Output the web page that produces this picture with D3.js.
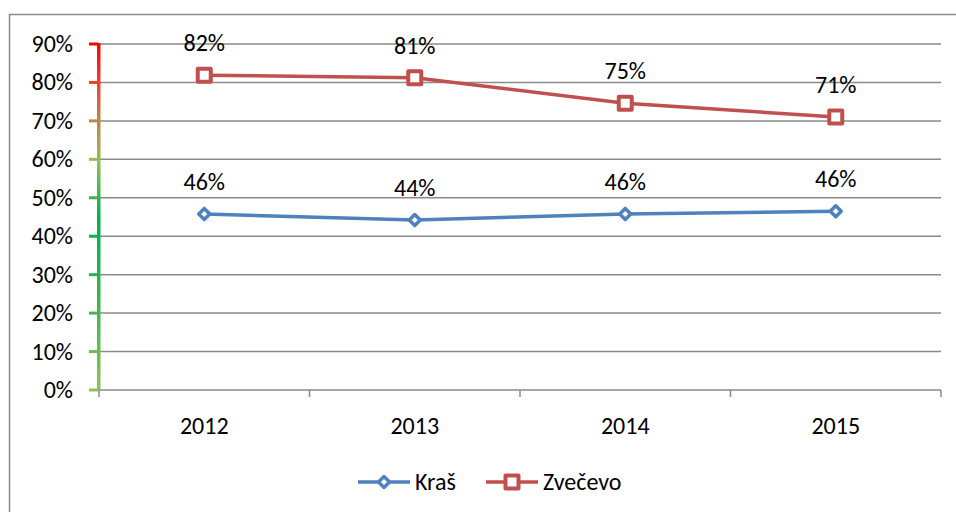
<html>
<head>
<meta charset="utf-8">
<script src="https://cdn.jsdelivr.net/npm/d3@7"></script>
<style>
  body { margin: 0; background: #fff; }
  text { font-family: Carlito, Lato, "Open Sans", sans-serif; fill: #000; }
</style>
</head>
<body>
<script>
// data
var years = ["2012", "2013", "2014", "2015"];
var kras = [0.458, 0.442, 0.458, 0.465];
var zvecevo = [0.819, 0.812, 0.746, 0.710];
var krasLabels = ["46%", "44%", "46%", "46%"];
var zvecevoLabels = ["82%", "81%", "75%", "71%"];
var yTicks = [0, 0.1, 0.2, 0.3, 0.4, 0.5, 0.6, 0.7, 0.8, 0.9];

var w = 956, h = 512;
var pLeft = 99, pRight = 941, pTop = 44, pBottom = 390;
var fs = 24;

var svg = d3.select("body").append("svg")
    .attr("width", w)
    .attr("height", h);

// outer frame
svg.append("rect")
    .attr("x", 9.5).attr("y", 14.5)
    .attr("width", 960).attr("height", 520)
    .attr("fill", "none")
    .attr("stroke", "#8c8c8c")
    .attr("stroke-width", 1.5);

var x = d3.scaleBand().domain(years).range([pLeft, pRight]);
var y = d3.scaleLinear().domain([0, 0.9]).range([pBottom, pTop]);

// gridlines
svg.append("g").selectAll("line")
    .data(yTicks.slice(1))
    .enter().append("line")
    .attr("x1", pLeft).attr("x2", pRight)
    .attr("y1", function(d) { return y(d); })
    .attr("y2", function(d) { return y(d); })
    .attr("stroke", "#8a8a8a")
    .attr("stroke-width", 1.5);

// x axis
var xAxis = svg.append("g")
    .attr("transform", "translate(0," + pBottom + ")");
xAxis.append("line")
    .attr("x1", pLeft).attr("x2", pRight)
    .attr("stroke", "#8a8a8a").attr("stroke-width", 1.5);
var xTickPos = years.map(function(d) { return x(d); }).concat([pRight]);
xAxis.selectAll(".xt")
    .data(xTickPos)
    .enter().append("line")
    .attr("x1", function(d) { return d; })
    .attr("x2", function(d) { return d; })
    .attr("y1", 0).attr("y2", 7)
    .attr("stroke", "#8a8a8a").attr("stroke-width", 1.5);
xAxis.selectAll("text")
    .data(years)
    .enter().append("text")
    .attr("x", function(d) { return x(d) + x.bandwidth() / 2; })
    .attr("y", 44)
    .attr("text-anchor", "middle")
    .attr("font-size", fs)
    .text(function(d) { return d; });

// gradient y axis
var grad = svg.append("defs").append("linearGradient")
    .attr("id", "axisGrad")
    .attr("gradientUnits", "userSpaceOnUse")
    .attr("x1", 0).attr("x2", 0)
    .attr("y1", pTop).attr("y2", pBottom);
[["0", "#ff0000"], ["0.1", "#e8402a"], ["0.22", "#c0844a"], ["0.34", "#92c050"],
 ["0.5", "#00b050"], ["0.75", "#3cb450"], ["1", "#92c050"]].forEach(function(s) {
  grad.append("stop").attr("offset", s[0]).attr("stop-color", s[1]);
});

var yAxis = svg.append("g");
yAxis.append("rect")
    .attr("x", pLeft - 2).attr("y", pTop - 1)
    .attr("width", 3.5).attr("height", pBottom - pTop + 1)
    .attr("fill", "url(#axisGrad)");
yAxis.selectAll(".yt")
    .data(yTicks)
    .enter().append("rect")
    .attr("x", pLeft - 10)
    .attr("y", function(d) { return y(d) - 1.5; })
    .attr("width", 9).attr("height", 3)
    .attr("fill", "url(#axisGrad)");
yAxis.selectAll("text")
    .data(yTicks)
    .enter().append("text")
    .attr("x", 73)
    .attr("y", function(d) { return y(d) + 8; })
    .attr("text-anchor", "end")
    .attr("font-size", fs)
    .text(function(d) { return d3.format(".0%")(d); });

// lines
var line = d3.line()
    .x(function(d, i) { return x(years[i]) + x.bandwidth() / 2; })
    .y(function(d) { return y(d); });

function drawSeries(vals, labels, color, shape, sw) {
  var g = svg.append("g");
  g.append("path")
      .datum(vals)
      .attr("d", line)
      .attr("fill", "none")
      .attr("stroke", color)
      .attr("stroke-width", 3.5);
  g.selectAll(".m")
      .data(vals)
      .enter().append("path")
      .attr("transform", function(d, i) {
        return "translate(" + (x(years[i]) + x.bandwidth() / 2) + "," + y(d) + ")";
      })
      .attr("d", shape)
      .attr("fill", "#fff")
      .attr("stroke", color)
      .attr("stroke-width", sw)
      .attr("stroke-linejoin", "round");
  g.selectAll("text")
      .data(vals)
      .enter().append("text")
      .attr("x", function(d, i) { return x(years[i]) + x.bandwidth() / 2; })
      .attr("y", function(d) { return y(d) - 24; })
      .attr("text-anchor", "middle")
      .attr("font-size", fs)
      .text(function(d, i) { return labels[i]; });
}

var diamond = "M0,-5.5L5.5,0L0,5.5L-5.5,0Z";
var square = "M-6.5,-6.5H6.5V6.5H-6.5Z";

drawSeries(kras, krasLabels, "#4f81bd", diamond, 3.5);
drawSeries(zvecevo, zvecevoLabels, "#c0504d", square, 4);

// legend
var legend = svg.append("g").attr("transform", "translate(0,482)");
var items = [
  { name: "Kraš", color: "#4f81bd", shape: diamond, sw: 3.5, x: 358 },
  { name: "Zvečevo", color: "#c0504d", shape: square, sw: 4, x: 486 }
];
items.forEach(function(it) {
  legend.append("line")
      .attr("x1", it.x).attr("x2", it.x + 52)
      .attr("stroke", it.color).attr("stroke-width", 3.5);
  legend.append("path")
      .attr("transform", "translate(" + (it.x + 26) + ",0)")
      .attr("d", it.shape)
      .attr("fill", "#fff")
      .attr("stroke", it.color)
      .attr("stroke-width", it.sw)
      .attr("stroke-linejoin", "round");
  legend.append("text")
      .attr("x", it.x + 57)
      .attr("y", 8)
      .attr("font-size", fs)
      .text(it.name);
});
</script>
</body>
</html>
